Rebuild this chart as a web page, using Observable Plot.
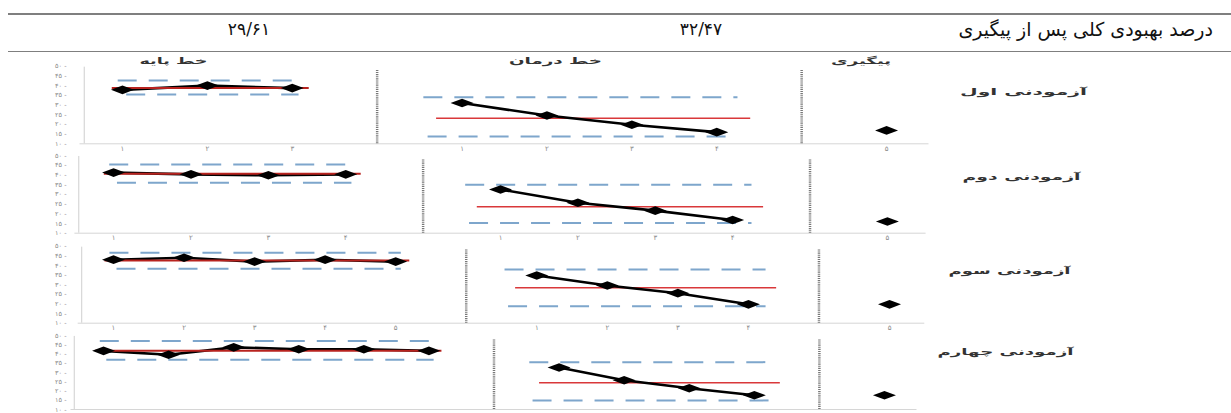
<!DOCTYPE html>
<html><head><meta charset="utf-8">
<script src="https://cdn.jsdelivr.net/npm/d3@7"></script>
<script src="https://cdn.jsdelivr.net/npm/@observablehq/plot@0.6"></script>
<style>
body{margin:0;background:#fff;font-family:"DejaVu Sans",sans-serif;}
#wrap{position:relative;width:1231px;height:413px;overflow:hidden;background:#fff;}
.hline{position:absolute;background:#7f7f7f;}
.htxt{position:absolute;font-size:17px;line-height:20px;color:#111;white-space:nowrap;}
</style></head><body>
<div id="wrap">
  <div class="hline" style="top:13px;left:8px;width:1223px;height:2px"></div>
  <div class="hline" style="top:51px;left:8px;width:1223px;height:1px"></div>
</div>
<script>
// ---------- data ----------
const participants = ["آزمودنی اول", "آزمودنی دوم", "آزمودنی سوم", "آزمودنی چهارم"];
const phaseNames = ["خط پایه", "خط درمان", "پیگیری"];
const overallLabel = "درصد بهبودی کلی پس از پیگیری";
const overallImprovement = [29.61, 32.47];

const baseline = [
  [37.8, 40.0, 38.7],
  [41.2, 40.3, 39.8, 40.3],
  [43.0, 44.0, 42.0, 43.0, 42.0],
  [41.7, 39.6, 43.6, 42.6, 42.6, 41.7]
];
const treatment = [
  [31.0, 24.6, 19.8, 16.0],
  [32.5, 25.7, 21.6, 16.8],
  [34.8, 29.6, 25.6, 19.8],
  [32.7, 25.8, 21.5, 17.7]
];
const followup = [16.9, 16.0, 19.8, 17.7];
const baselineMean = [38.7, 40.6, 42.6, 41.7];
const baselineUpper = [42.6, 45.4, 46.6, 47.0];
const baselineLower = [35.4, 36.0, 38.3, 36.9];
const treatmentMean = [23.2, 23.6, 28.4, 24.5];
const treatmentUpper = [34.0, 34.9, 37.9, 35.6];
const treatmentLower = [13.8, 15.2, 18.8, 14.9];
const yTicks = [10, 15, 20, 25, 30, 35, 40, 45, 50];
const followupTickLabel = 5;

// ---------- layout ----------
const rowTop = [52, 151, 241, 331];
const rowH = [99, 90, 90, 82];
const mTop = [13.7, 4, 4.7, 4];
const mBottom = [7.7, 8.3, 8.3, 4];
const mLeft = [79.5, 74.4, 77.7, 70.5];
const plotRight = [928.5, 925.6, 924.3, 916.5];
const labelCx = [1023, 1021, 1009, 1005];
const labelCy = [88, 172.7, 266.7, 348.3];
const phaseLabelX = [1.6, 6.1, 9.7];
const phaseLabelY = 57;
const textWidths = {"خط پایه": 68, "خط درمان": 93, "پیگیری": 60,
  "آزمودنی اول": 127, "آزمودنی دوم": 118, "آزمودنی سوم": 122, "آزمودنی چهارم": 136};

const fa = s => String(s).replace(/\d/g, d => "۰۱۲۳۴۵۶۷۸۹"[d]);
const wrap = document.getElementById("wrap");

// header
const hdr = [
  {t: fa(overallImprovement[0].toFixed(2)).replace(".", "/"), left: 249, anchor: "center", size: 17},
  {t: fa(overallImprovement[1].toFixed(2)).replace(".", "/"), left: 701, anchor: "center", size: 17},
  {t: overallLabel, left: 1213, anchor: "right", size: 19}
];
hdr.forEach(h => {
  const d = document.createElement("div");
  d.className = "htxt";
  d.textContent = h.t;
  d.style.top = "19px";
  d.style.fontSize = h.size + "px";
  d.style.left = h.left + "px";
  d.style.transform = h.anchor === "center" ? "translateX(-50%)" : "translateX(-100%)";
  if (h.anchor === "right") d.style.direction = "rtl";
  wrap.appendChild(d);
});

const wideDiamond = {draw(ctx) { ctx.moveTo(-11.5, 0); ctx.lineTo(0, -4.3); ctx.lineTo(11.5, 0); ctx.lineTo(0, 4.3); ctx.closePath(); }};

participants.forEach((name, i) => {
  const b = baseline[i], t = treatment[i], nb = b.length, N = nb + 7;
  const pts = [
    ...b.map((y, k) => ({x: k + 1, y, phase: "b"})),
    ...t.map((y, k) => ({x: nb + 2 + k, y, phase: "t"}))
  ];
  const fol = [{x: nb + 7, y: followup[i]}];
  const means = [
    {y: baselineMean[i], x1: 0.88, x2: nb + 0.2},
    {y: treatmentMean[i], x1: nb + 1.7, x2: nb + 5.4}
  ];
  const bands = [
    {y: baselineUpper[i], x1: 0.95, x2: nb + 0.08},
    {y: baselineLower[i], x1: 1.05, x2: nb + 0.08},
    {y: treatmentUpper[i], x1: nb + 1.55, x2: nb + 5.25},
    {y: treatmentLower[i], x1: nb + 1.6, x2: nb + 5.25}
  ];
  const tickPos = [], tickLab = new Map();
  b.forEach((_, k) => { tickPos.push(k + 1); tickLab.set(k + 1, fa(k + 1)); });
  t.forEach((_, k) => { tickPos.push(nb + 2 + k); tickLab.set(nb + 2 + k, fa(k + 1)); });
  tickPos.push(nb + 7); tickLab.set(nb + 7, fa(followupTickLabel));

  const marks = [
    Plot.ruleY([10], {x1: 0.5, x2: N + 0.5, stroke: "#d6d6d6", strokeWidth: 1}),
    Plot.ruleX([0.55], {y1: 10, y2: 49.5, stroke: "#cfcfcf", strokeWidth: 1}),
    Plot.axisY({ticks: yTicks, tickSize: 0, tickPadding: mLeft[i] - 66, tickFormat: d => fa(d) + " -", fontSize: 6.5, label: null}),
    Plot.ruleX([nb + 1, nb + 6], {y1: 10, y2: 48, stroke: "#777", strokeWidth: 2.5, strokeDasharray: "1,0.9"}),
    Plot.ruleY(bands, {y: "y", x1: "x1", x2: "x2", stroke: "#7ea6cc", strokeWidth: 2, strokeDasharray: "19,12"}),
    Plot.ruleY(means.slice(1), {y: "y", x1: "x1", x2: "x2", stroke: "#d9383a", strokeWidth: 1.6}),
    Plot.line(pts, {x: "x", y: "y", z: "phase", stroke: "#000", strokeWidth: 2.6}),
    Plot.ruleY(means.slice(0, 1), {y: "y", x1: "x1", x2: "x2", stroke: "#b8231f", strokeWidth: 2}),
    Plot.dot([...pts, ...fol], {x: "x", y: "y", symbol: wideDiamond, fill: "#000", stroke: "none"}),
    Plot.text([name], {frameAnchor: "top-right", dx: labelCx[i] - plotRight[i], dy: labelCy[i] - (rowTop[i] + mTop[i]),
      textAnchor: "middle", fontSize: 9, fontWeight: "bold", fill: "#333"})
  ];
  if (i < 3) {
    marks.push(Plot.axisX({ticks: tickPos, tickSize: 0, tickPadding: 2, tickFormat: v => tickLab.get(v), fontSize: 7, label: null}));
  } else {
    marks.push(Plot.axisX({ticks: [], label: null}));
  }
  if (i === 0) {
    marks.push(Plot.text(phaseNames, {x: (d, j) => phaseLabelX[j], frameAnchor: "top", dy: phaseLabelY - (rowTop[0] + mTop[0]),
      textAnchor: "middle", fontSize: 9, fontWeight: "bold", fill: "#333"}));
  }

  const svg = Plot.plot({
    width: 1231, height: rowH[i],
    marginTop: mTop[i], marginBottom: mBottom[i], marginLeft: mLeft[i], marginRight: 1231 - plotRight[i],
    x: {domain: [0.5, N + 0.5], label: null},
    y: {domain: [10, 50], label: null},
    style: {fontFamily: "DejaVu Sans", background: "transparent", color: "#8a8a8a", overflow: "visible"},
    marks
  });
  svg.style.position = "absolute";
  svg.style.left = "0px";
  svg.style.top = rowTop[i] + "px";
  d3.select(svg).selectAll("text").each(function() {
    const w = textWidths[this.textContent];
    if (w) { this.setAttribute("textLength", w); this.setAttribute("lengthAdjust", "spacingAndGlyphs"); }
  });
  wrap.appendChild(svg);
});
</script>
</body></html>
